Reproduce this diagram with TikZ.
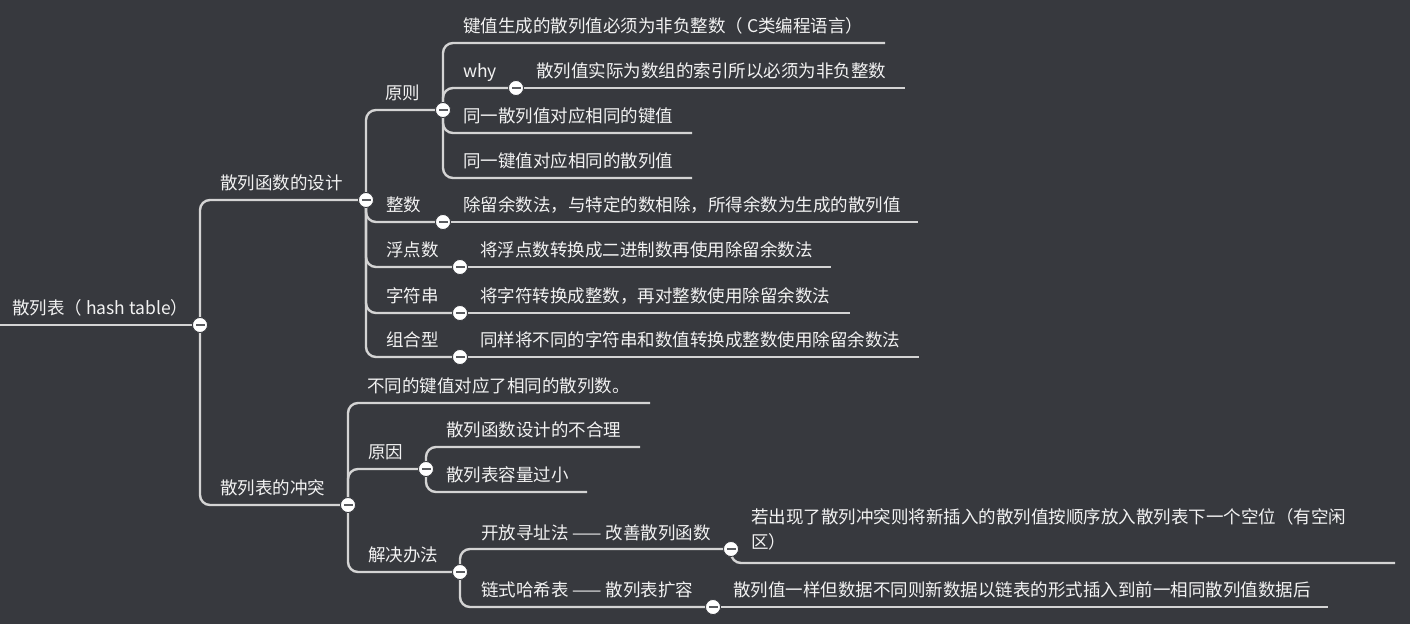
\documentclass[tikz,border=0pt]{standalone}
\usepackage{fontspec}
\setmainfont{Noto Sans CJK SC}
\definecolor{bg}{HTML}{37393E}
\definecolor{ln}{HTML}{D4D4D4}
\definecolor{tx}{HTML}{F2F2F2}
\definecolor{mn}{HTML}{5A5C60}
\tikzset{
  conn/.style={draw=ln, line width=2.4pt, rounded corners=10pt},
  txt/.style={text=tx, inner sep=0pt, anchor=base west, font=\fontsize{17.5pt}{25pt}\selectfont, align=left},
  dot/.style={circle, fill=white, draw=bg, line width=0.8pt, minimum size=15pt, inner sep=0pt,
    path picture={\fill[mn] ([xshift=-4.5pt,yshift=-1.3pt]path picture bounding box.center) rectangle ([xshift=4.5pt,yshift=1.3pt]path picture bounding box.center);}}
}
\begin{document}
\begin{tikzpicture}[x=1pt,y=-1pt]
\fill[bg] (0,0) rectangle (1410,624);
\useasboundingbox (0,0) rectangle (1410,624);
% junction coordinates
\coordinate (r0) at (0,325);
\coordinate (c0) at (200,325);
\coordinate (c1) at (366,200);
\coordinate (c2) at (443,110);
\coordinate (cwhy) at (516,88);
\coordinate (czs) at (443,222);
\coordinate (cfd) at (460,267);
\coordinate (czf) at (460,313);
\coordinate (czh) at (460,357);
\coordinate (c3) at (348,505);
\coordinate (cyy) at (426,469);
\coordinate (cjj) at (460,572);
\coordinate (ckf) at (731,549);
\coordinate (cls) at (713,607);
% free ends
\coordinate (e1) at (885,43);
\coordinate (e2) at (905,88);
\coordinate (e3) at (692,133);
\coordinate (e4) at (692,178);
\coordinate (e5) at (918,222);
\coordinate (e6) at (831,267);
\coordinate (e7) at (850,313);
\coordinate (e8) at (919,357);
\coordinate (e9) at (650,403);
\coordinate (e10) at (640,447);
\coordinate (e11) at (587,492);
\coordinate (e12) at (1395,563);
\coordinate (e13) at (1328,607);
% connectors
\draw[conn] (r0) -- (c0);
\draw[conn] (c0) |- (c1);
\draw[conn] (c0) |- (c3);
\draw[conn] (c1) |- (c2);
\draw[conn] (c1) |- (czs);
\draw[conn] (c1) |- (cfd);
\draw[conn] (c1) |- (czf);
\draw[conn] (c1) |- (czh);
\draw[conn] (c2) |- (e1);
\draw[conn] (c2) |- (cwhy);
\draw[conn] (c2) |- (e3);
\draw[conn] (c2) |- (e4);
\draw[conn] (cwhy) -- (e2);
\draw[conn] (czs) -- (e5);
\draw[conn] (cfd) -- (e6);
\draw[conn] (czf) -- (e7);
\draw[conn] (czh) -- (e8);
\draw[conn] (c3) |- (e9);
\draw[conn] (c3) |- (cyy);
\draw[conn] (c3) |- (cjj);
\draw[conn] (cyy) |- (e10);
\draw[conn] (cyy) |- (e11);
\draw[conn] (cjj) |- (ckf);
\draw[conn] (cjj) |- (cls);
\draw[conn] (ckf) |- (e12);
\draw[conn] (cls) -- (e13);
% dots
\foreach \c in {c0,c1,c2,cwhy,czs,cfd,czf,czh,c3,cyy,cjj,ckf,cls}{\node[dot] at (\c) {};}
% texts
\node[txt] (t0) at (12,314) {散列表（ hash table）};
\node[txt] (t1) at (220,189) {散列函数的设计};
\node[txt] (t2) at (385,99) {原则};
\node[txt] (t3) at (463,32) {键值生成的散列值必须为非负整数（ C类编程语言）};
\node[txt] (t4) at (463,77) {why};
\node[txt] (t5) at (536,77) {散列值实际为数组的索引所以必须为非负整数};
\node[txt] (t6) at (463,122) {同一散列值对应相同的键值};
\node[txt] (t7) at (463,167) {同一键值对应相同的散列值};
\node[txt] (t8) at (386,211) {整数};
\node[txt] (t9) at (463,211) {除留余数法，与特定的数相除，所得余数为生成的散列值};
\node[txt] (t10) at (386,256) {浮点数};
\node[txt] (t11) at (480,256) {将浮点数转换成二进制数再使用除留余数法};
\node[txt] (t12) at (386,302) {字符串};
\node[txt] (t13) at (480,302) {将字符转换成整数，再对整数使用除留余数法};
\node[txt] (t14) at (386,346) {组合型};
\node[txt] (t15) at (480,346) {同样将不同的字符串和数值转换成整数使用除留余数法};
\node[txt] (t16) at (220,494) {散列表的冲突};
\node[txt] (t17) at (367,392) {不同的键值对应了相同的散列数。};
\node[txt] (t18) at (368,458) {原因};
\node[txt] (t19) at (446,436) {散列函数设计的不合理};
\node[txt] (t20) at (446,481) {散列表容量过小};
\node[txt] (t21) at (368,561) {解决办法};
\node[txt] (t22) at (481,539) {开放寻址法 —— 改善散列函数};
\node[txt, anchor=north west] (t23) at (751,508) {若出现了散列冲突则将新插入的散列值按顺序放入散列表下一个空位（有空闲\\区）};
\node[txt] (t24) at (481,596) {链式哈希表 —— 散列表扩容};
\node[txt] (t25) at (733,596) {散列值一样但数据不同则新数据以链表的形式插入到前一相同散列值数据后};
\end{tikzpicture}
\end{document}
